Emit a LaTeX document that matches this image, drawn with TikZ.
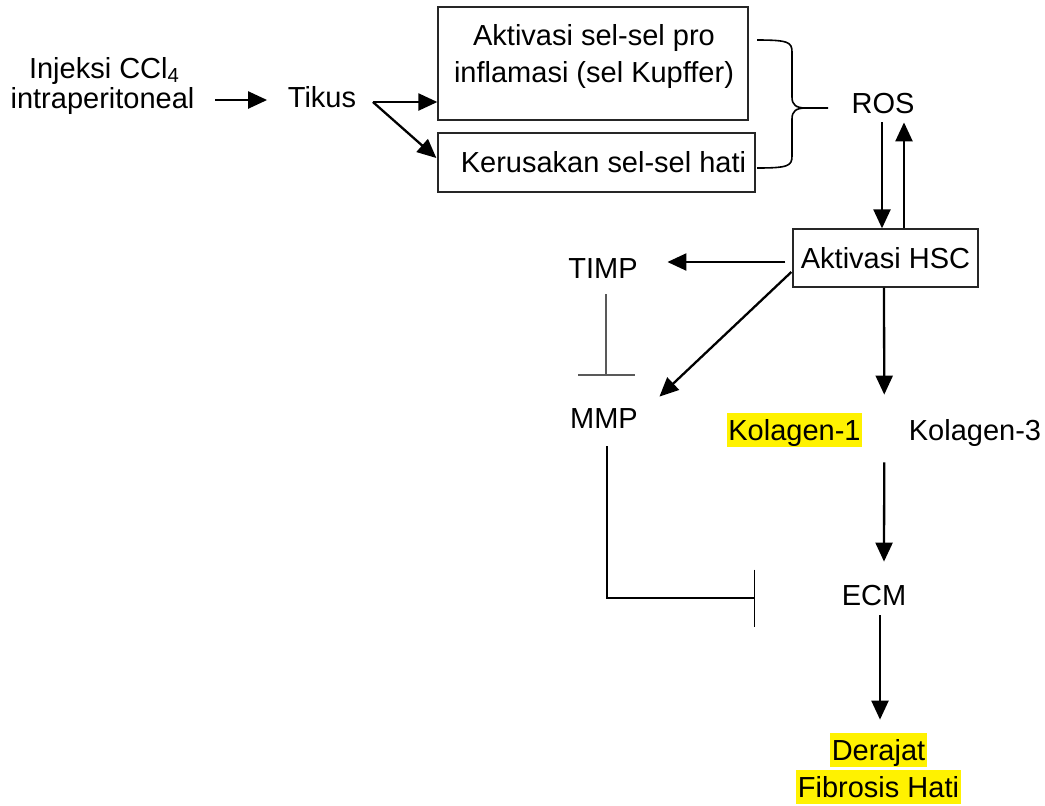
\documentclass[tikz,border=0pt]{standalone}
\usepackage{fontspec}
\setmainfont{Liberation Sans}
\usetikzlibrary{arrows.meta,calc}
\begin{document}
\begin{tikzpicture}[x=0.5pt,y=-0.5pt,
  every node/.style={font=\fontsize{14.5}{17}\selectfont},
  txt/.style={inner sep=0pt, text height=13.5pt, text depth=3.25pt, anchor=base},
  hl/.style={txt, fill=yellow, inner xsep=0.75pt},
  box/.style={draw=black!85, line width=0.65pt, rectangle, inner sep=0pt, text height=13.5pt, text depth=3.25pt},
  arr/.style={line width=1.15pt, -{Triangle[length=9.5pt,width=8.5pt]}},
  inh/.style={line width=0.65pt, -{Bar[width=28.5pt,line width=0.65pt]}},
  brace/.style={line width=0.8pt}
]
\fill[white] (0,0) rectangle (1045,805);
\useasboundingbox (0,0) rectangle (1045,805);

\node[txt] (inj1) at (104.5,78) {Injeksi CCl\textsubscript{4}};
\node[txt] (inj2) at (102.5,108) {intraperitoneal};
\node[txt] (tikus) at (322,107) {Tikus};
\node[box, minimum width=155pt, minimum height=56.5pt] (kup) at (593,63.5) {};
\node[txt] (kup1) at (594,45) {Aktivasi sel-sel pro};
\node[txt] (kup2) at (594,82) {inflamasi (sel Kupffer)};
\node[box, minimum width=158.5pt, minimum height=29.5pt] (rusak) at (596.5,162.5) {\hspace{7pt}Kerusakan sel-sel hati};
\node[txt] (ros) at (883,113) {ROS};
\node[box, minimum width=92.5pt, minimum height=29pt] (hsc) at (885.5,258) {Aktivasi HSC};
\node[txt] (timp) at (603,278) {TIMP};
\node[txt] (mmp) at (604,428) {MMP};
\node[hl] (kol1) at (794.5,440) {Kolagen-1};
\node[txt] (kol3) at (975,440) {Kolagen-3};
\node[txt] (ecm) at (874,605) {ECM};
\node[hl] (der1) at (878.5,760) {Derajat};
\node[hl] (der2) at (878.5,797) {Fibrosis Hati};

\draw[arr] ($(inj2.east)+(20.5,2.25)$) -- ($(tikus.west)+(-20.4,3.25)$);
\coordinate (fork) at ($(tikus.east)+(16.4,5.25)$);
\draw[arr] (fork) -- (fork -| kup.west);
\draw[arr] (fork) -- ($(rusak.west)+(-1,-4.5)$);

\draw[brace] (757,40) .. controls (788,40) and (792,42) .. (792,52) -- (792,97) .. controls (792,105) and (796,108) .. (806,108) -- (828,108);
\draw[brace] (806,108) .. controls (796,108) and (792,111) .. (792,119) -- (792,156) .. controls (792,166) and (788,168) .. (757,168);

\draw[arr] ($(ros.south)+(-1,2.5)$) -- ($(hsc.north)+(-3.5,0)$);
\draw[arr] ($(hsc.north)+(18.5,0)$) -- ($(ros.south)+(21,2.5)$);
\draw[arr] ($(hsc.west)+(-7,4)$) -- ($(timp.east)+(29.4,-5.75)$);
\draw[arr] ($(hsc.west)+(-1,14)$) -- ($(mmp.north east)+(21.2,-4)$);
\draw[inh, draw=black!65] ($(timp.south)+(3,9.5)$) -- ($(mmp.north)+(2,-25)$);
\coordinate (kn) at ($(kol1.north east)!0.5!(kol3.north west)$);
\coordinate (ks) at ($(kol1.south east)!0.5!(kol3.south west)$);
\draw[arr] ($(hsc.south)+(-1.5,0)$) -- ($(kn)+(-1.25,-18)$);
\draw[arr] ($(ks)+(-1.25,15.5)$) -- ($(ecm.north)+(10,-16)$);
\draw[inh] ($(mmp.south)+(3,11.5)$) |- ($(ecm.west)+(-86,3.25)$);
\draw[arr] ($(ecm.south)+(6,3.5)$) -- ($(der1.north)+(1.5,-13)$);
\end{tikzpicture}
\end{document}
